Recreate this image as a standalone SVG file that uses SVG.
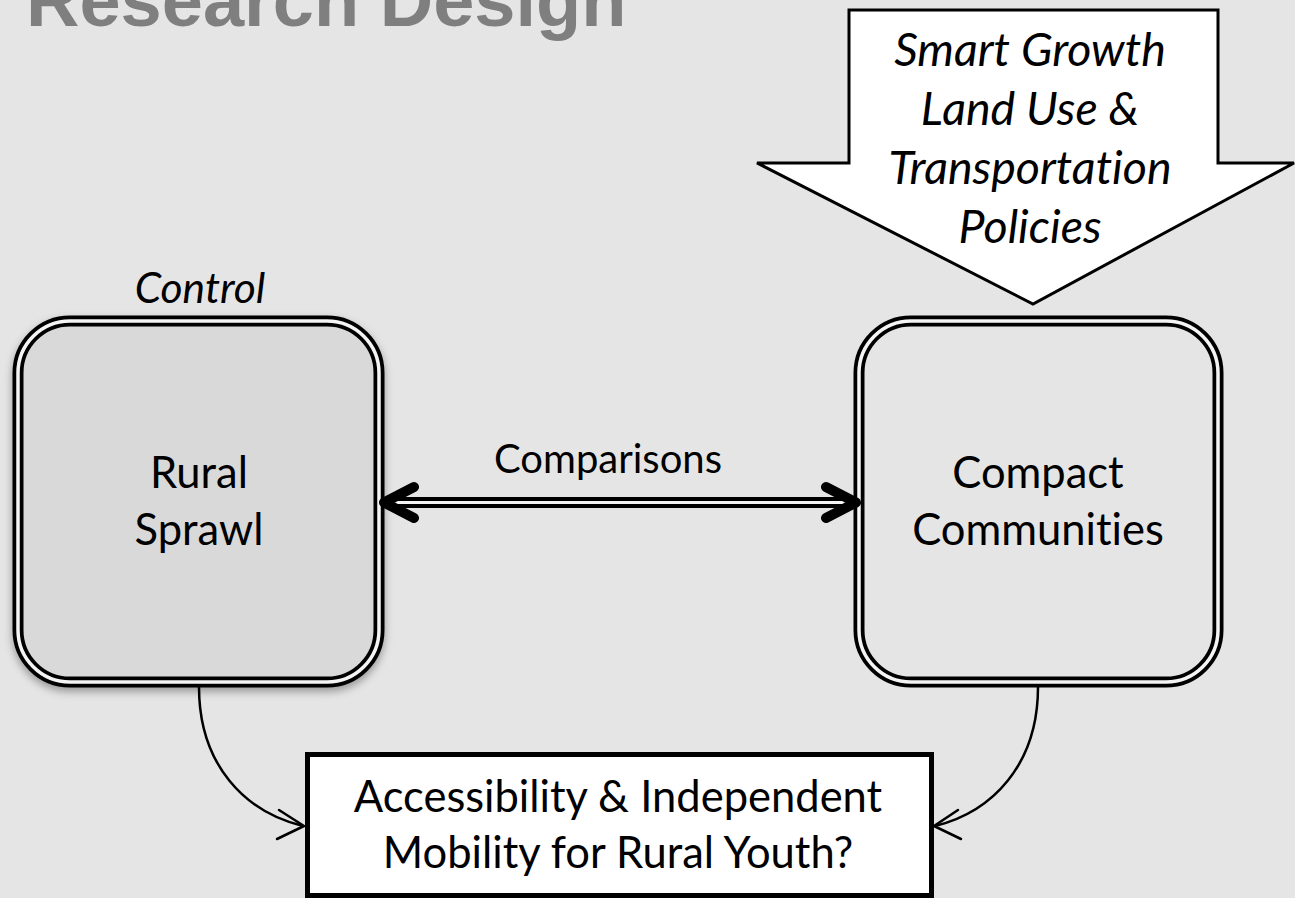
<svg xmlns="http://www.w3.org/2000/svg" width="1295" height="898" viewBox="0 0 1295 898">
  <defs>
    <style>
      .label { font-family: Lato, "Open Sans", sans-serif; font-size: 43.5px; fill: #000; text-anchor: middle; font-variant-ligatures: none; }
      .ital { font-style: italic; }
      .big { font-size: 46.5px; }
      .mid { font-size: 40px; }
      .ctl { font-size: 42.5px; }
      .title { font-family: "Liberation Sans", Arial, sans-serif; font-weight: bold; font-size: 74px; fill: #7f7f7f; }
      .band { fill: none; stroke: #000; stroke-width: 11; }
      .gap { fill: none; stroke: #f4f4f4; stroke-width: 3.5; }
      .link { fill: none; stroke: #000; stroke-width: 2.5; }
      .head { fill: none; stroke: #000; stroke-width: 2.5; stroke-linecap: round; stroke-linejoin: round; }
    </style>
    <filter id="shadow" x="-10%" y="-10%" width="125%" height="125%">
      <feDropShadow dx="0" dy="4" stdDeviation="4" flood-color="#000" flood-opacity="0.35"/>
    </filter>
  </defs>

  <!-- page background -->
  <rect x="0" y="0" width="1295" height="898" fill="#e5e5e5"/>

  <!-- heading, clipped by the top edge -->
  <text class="title" x="26" y="26">Research Design</text>

  <!-- policy input: downward block arrow -->
  <g id="policies">
    <polygon points="849,10 1218,10 1218,163 1294,163 1033,304 757,163 849,163" fill="#fff" stroke="#000" stroke-width="3" stroke-linejoin="miter"/>
    <text class="label ital big" x="1030" y="66">Smart Growth</text>
    <text class="label ital big" x="1030" y="125">Land Use &amp;</text>
    <text class="label ital big" x="1030" y="184">Transportation</text>
    <text class="label ital big" x="1030" y="243">Policies</text>
  </g>

  <!-- control group -->
  <g id="rural-sprawl">
    <text class="label ital ctl" x="200" y="303">Control</text>
    <rect x="18" y="321" width="361" height="361" rx="52" fill="#d9d9d9" stroke="#000" stroke-width="11" filter="url(#shadow)"/>
    <rect class="gap" x="18" y="321" width="361" height="361" rx="52"/>
    <text class="label" x="199" y="488">Rural</text>
    <text class="label" x="199" y="545">Sprawl</text>
  </g>

  <!-- treatment group -->
  <g id="compact-communities">
    <rect class="band" x="859" y="321" width="359" height="361" rx="52" fill="#e5e5e5"/>
    <rect class="gap" x="859" y="321" width="359" height="361" rx="52"/>
    <text class="label" x="1038" y="488">Compact</text>
    <text class="label" x="1038" y="545">Communities</text>
  </g>

  <!-- outcome -->
  <g id="outcome">
    <rect x="307.5" y="754.5" width="624" height="141" fill="#fff" stroke="#000" stroke-width="5"/>
    <text class="label" x="618" y="812">Accessibility &amp; Independent</text>
    <text class="label" x="618" y="868">Mobility for Rural Youth?</text>
  </g>

  <!-- connectors -->
  <g id="connectors">
    <!-- comparison: double-lined two-way arrow -->
    <g id="comparisons">
      <text class="label mid" x="608" y="473">Comparisons</text>
      <line x1="390" y1="502.5" x2="850" y2="502.5" stroke="#000" stroke-width="11"/>
      <line x1="392" y1="502.5" x2="848" y2="502.5" stroke="#f4f4f4" stroke-width="3"/>
      <polyline points="414,487 384,502.5 414,518" fill="none" stroke="#000" stroke-width="10" stroke-linecap="round" stroke-linejoin="round"/>
      <polyline points="826,487 856,502.5 826,518" fill="none" stroke="#000" stroke-width="10" stroke-linecap="round" stroke-linejoin="round"/>
    </g>
    <!-- both settings feed the outcome -->
    <path class="link" d="M199,687 C199,765 245,812 303,826"/>
    <polyline class="head" points="279,810 304,826 277,839"/>
    <path class="link" d="M1038,687 C1038,765 992,812 935,826"/>
    <polyline class="head" points="958,810 934,826 961,839"/>
  </g>
</svg>
